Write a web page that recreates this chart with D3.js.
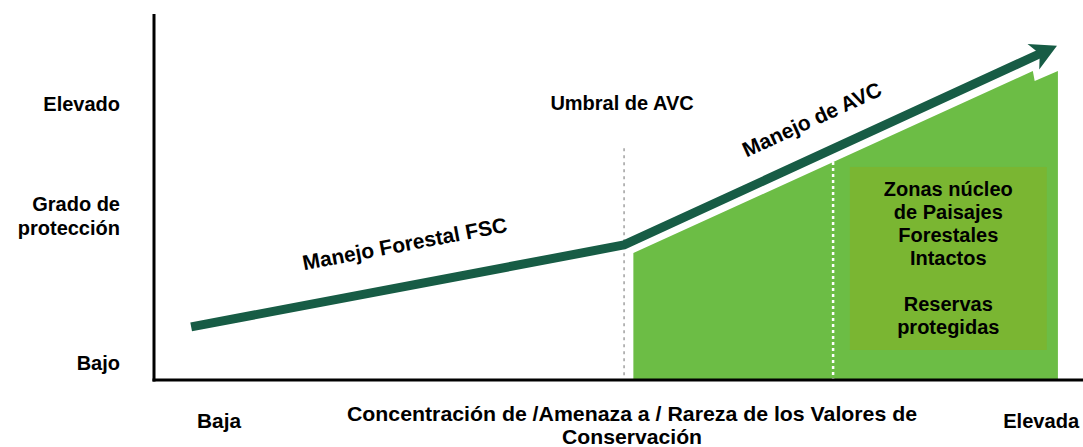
<!DOCTYPE html>
<html>
<head>
<meta charset="utf-8">
<script src="https://cdn.jsdelivr.net/npm/d3@7"></script>
<style>
  html, body { margin: 0; padding: 0; background: #ffffff; }
  svg { display: block; }
  text { font-family: "Liberation Sans", Arial, Helvetica, sans-serif; font-weight: bold; fill: #000; }
  .narrow { font-family: "Liberation Sans Narrow", "Arial Narrow", "Liberation Sans", Arial, sans-serif; }
</style>
</head>
<body>
<script>
// ---------- data (conceptual units 0-100 on both axes) ----------
const protectionX = [4, 50.6, 97.2];          // concentration of HCV
const protectionY = [14.5, 36.9, 91.3];       // degree of protection
const hcvAreaX   = [51.6, 94.6, 94.8, 97.3];  // HCV managed zone (green area)
const hcvAreaTop = [34.7, 84.4, 81.7, 84.4];
const thresholdX = 50.6;                        // "Umbral de AVC"
const thresholdTop = 63.3;
const iflBoundaryX = 73.1;                      // white dashed boundary
const coreBox = { x0: 74.9, x1: 96.1, y0: 8.2, y1: 58.2 };
const yLevelLabels = [
  { lines: ["Elevado"], level: 75.4 },
  { lines: ["Grado de", "protección"], level: 44.8 },
  { lines: ["Bajo"], level: 4.6 }
];
const xLevelLabels = [
  { text: "Baja", at: 7 },
  { text: "Elevada", at: 95.5 }
];
const xTitleLines = ["Concentración de /Amenaza a / Rareza de los Valores de", "Conservación"];
const coreLines = ["Zonas núcleo", "de Paisajes", "Forestales", "Intactos", "", "Reservas", "protegidas"];

// ---------- layout ----------
const W = 1083, H = 447;
const x = d3.scaleLinear().domain([0, 100]).range([154, 1083]);
const y = d3.scaleLinear().domain([0, 100]).range([380, 14]);

const svg = d3.select("body").append("svg").attr("width", W).attr("height", H);

// green HCV area
const areaPts = hcvAreaX.map((d, i) => [d, hcvAreaTop[i]]);
const area = d3.area().x(d => x(d[0])).y0(y(0)).y1(d => y(d[1]));
svg.append("path").datum(areaPts).attr("d", area).attr("fill", "#6cbd45");

// core zone box
svg.append("rect")
  .attr("x", x(coreBox.x0)).attr("y", y(coreBox.y1))
  .attr("width", x(coreBox.x1) - x(coreBox.x0))
  .attr("height", y(coreBox.y0) - y(coreBox.y1))
  .attr("fill", "#7ab632");

// white dashed boundary
const topAt = d3.scaleLinear().domain([hcvAreaX[0], hcvAreaX[1]]).range([hcvAreaTop[0], hcvAreaTop[1]]);
svg.append("line")
  .attr("x1", x(iflBoundaryX)).attr("x2", x(iflBoundaryX))
  .attr("y1", y(topAt(iflBoundaryX))).attr("y2", y(0))
  .attr("stroke", "#ffffff").attr("stroke-width", 2.5).attr("stroke-dasharray", "3,3");

// gray dashed threshold
svg.append("line")
  .attr("x1", x(thresholdX)).attr("x2", x(thresholdX))
  .attr("y1", y(thresholdTop)).attr("y2", y(0))
  .attr("stroke", "#a0a0a0").attr("stroke-width", 1.5).attr("stroke-dasharray", "3,4");

// protection line with arrow
const pts = protectionX.map((d, i) => [x(d), y(protectionY[i])]);
const tip = pts[pts.length - 1], prev = pts[pts.length - 2];
const len = Math.hypot(tip[0] - prev[0], tip[1] - prev[1]);
const dir = [(tip[0] - prev[0]) / len, (tip[1] - prev[1]) / len];
const perp = [-dir[1], dir[0]];
const shaftEnd = [tip[0] - dir[0] * 16, tip[1] - dir[1] * 16];
const linePts = pts.slice(0, -1).concat([shaftEnd]);
const lineColor = "#175c45";
svg.append("path")
  .attr("d", d3.line()(linePts))
  .attr("fill", "none").attr("stroke", lineColor).attr("stroke-width", 9)
  .attr("stroke-linejoin", "round").attr("stroke-linecap", "butt");
const back = [tip[0] - dir[0] * 26, tip[1] - dir[1] * 26];
const notch = [tip[0] - dir[0] * 19, tip[1] - dir[1] * 19];
const head = [
  tip,
  [back[0] + perp[0] * 14, back[1] + perp[1] * 14],
  notch,
  [back[0] - perp[0] * 14, back[1] - perp[1] * 14]
];
svg.append("path").attr("d", d3.line()(head) + "Z").attr("fill", lineColor);

// axes
svg.append("line").attr("x1", 154).attr("x2", 154).attr("y1", 14).attr("y2", 381.5)
  .attr("stroke", "#000").attr("stroke-width", 3);
svg.append("line").attr("x1", 152.5).attr("x2", W).attr("y1", 380).attr("y2", 380)
  .attr("stroke", "#000").attr("stroke-width", 3);

// y labels
yLevelLabels.forEach(l => {
  const n = l.lines.length;
  l.lines.forEach((t, i) => {
    svg.append("text")
      .attr("x", 120).attr("y", y(l.level) + 7 + (i - (n - 1) / 2) * 24)
      .attr("text-anchor", "end").attr("font-size", 20).text(t);
  });
});

// threshold label
svg.append("text").attr("x", x(thresholdX) - 2).attr("y", 110)
  .attr("text-anchor", "middle").attr("font-size", 20).text("Umbral de AVC");

// rotated line labels
function angleOf(a, b) { return Math.atan2(b[1] - a[1], b[0] - a[0]) * 180 / Math.PI; }
svg.append("text")
  .attr("transform", `translate(406,251) rotate(${angleOf(pts[0], pts[1])})`)
  .attr("text-anchor", "middle").attr("font-size", 21).text("Manejo Forestal FSC");
svg.append("text")
  .attr("transform", `translate(815,126) rotate(${angleOf(pts[1], pts[2])})`)
  .attr("text-anchor", "middle").attr("font-size", 21).text("Manejo de AVC");

// core box text
const cx = (x(coreBox.x0) + x(coreBox.x1)) / 2;
coreLines.forEach((t, i) => {
  if (!t) return;
  svg.append("text").attr("x", cx).attr("y", 196 + i * 23)
    .attr("text-anchor", "middle").attr("font-size", 20).text(t);
});

// x labels (narrow)
xLevelLabels.forEach(l => {
  svg.append("text").attr("class", "narrow")
    .attr("x", x(l.at)).attr("y", 428)
    .attr("text-anchor", "middle").attr("font-size", 21)
    .attr("textLength", l.text === "Baja" ? 44 : 76).attr("lengthAdjust", "spacingAndGlyphs")
    .text(l.text);
});
svg.append("text").attr("class", "narrow")
  .attr("x", 632).attr("y", 421).attr("text-anchor", "middle").attr("font-size", 21)
  .attr("textLength", 570).attr("lengthAdjust", "spacingAndGlyphs").text(xTitleLines[0]);
svg.append("text").attr("class", "narrow")
  .attr("x", 632).attr("y", 444).attr("text-anchor", "middle").attr("font-size", 21)
  .attr("textLength", 140).attr("lengthAdjust", "spacingAndGlyphs").text(xTitleLines[1]);
</script>
</body>
</html>
